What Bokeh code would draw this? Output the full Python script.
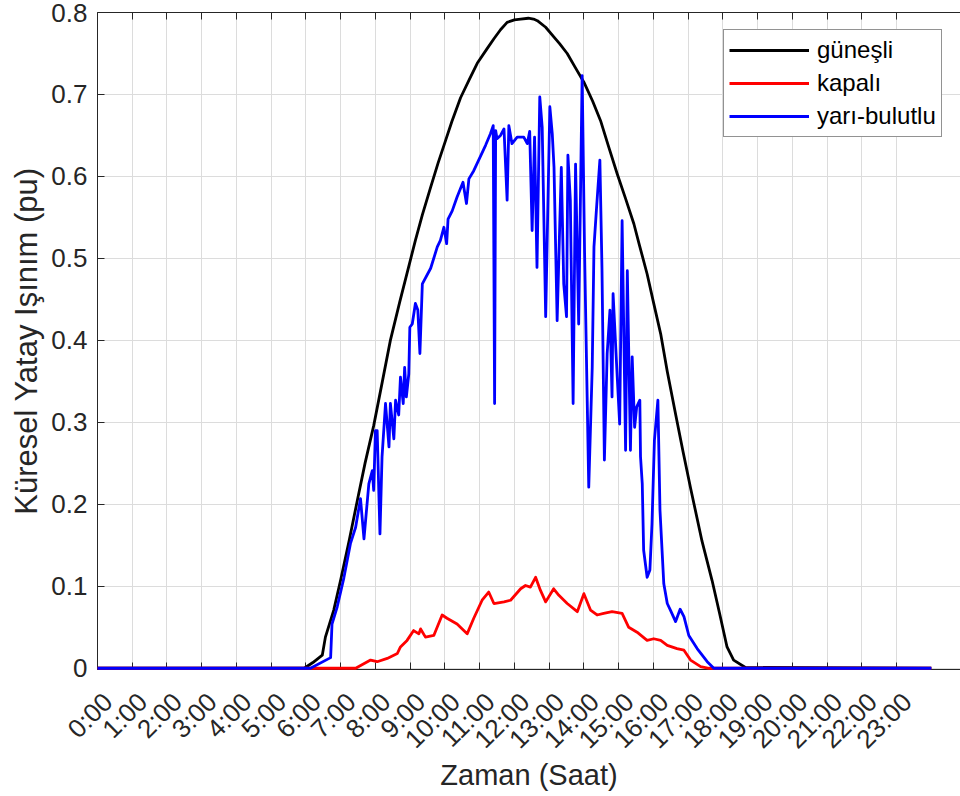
from math import pi
from bokeh.plotting import figure
from bokeh.models import (FixedTicker, Range1d, LinearAxis, Legend, LegendItem,
                          CustomJSTickFormatter)
from bokeh.embed import file_html
from bokeh.resources import INLINE

# ---------------- data (hours, per-unit irradiance) ----------------
gunesli_t = [0, 5.95, 6.2, 6.47, 6.56, 6.8, 7.0, 7.25, 7.48, 7.7, 7.95, 8.2, 8.43, 8.7,
             9.0, 9.15, 9.35, 9.59, 9.8, 10.02, 10.2, 10.45, 10.7, 10.93, 11.2, 11.41,
             11.6, 11.79, 12.0, 12.18, 12.4, 12.55, 12.66, 12.9, 13.14, 13.3, 13.52,
             13.75, 14.0, 14.25, 14.48, 14.7, 14.96, 15.2, 15.44, 15.6, 15.82, 16.0,
             16.21, 16.4, 16.64, 16.85, 17.07, 17.4, 17.69, 17.9, 18.12, 18.31, 18.65, 24]
gunesli_v = [0, 0, 0.007, 0.016, 0.038, 0.071, 0.108, 0.157, 0.205, 0.250, 0.296, 0.350,
             0.400, 0.447, 0.497, 0.522, 0.553, 0.587, 0.616, 0.644, 0.667, 0.696, 0.718,
             0.738, 0.755, 0.768, 0.779, 0.788, 0.791, 0.792, 0.793, 0.792, 0.790, 0.782,
             0.770, 0.762, 0.750, 0.733, 0.715, 0.692, 0.668, 0.638, 0.603, 0.573, 0.542,
             0.516, 0.481, 0.447, 0.408, 0.362, 0.310, 0.265, 0.220, 0.155, 0.107, 0.068,
             0.026, 0.010, 0.001, 0]

kapali_t = [0, 7.43, 7.86, 8.05, 8.34, 8.63, 8.72, 8.91, 9.1, 9.25, 9.30, 9.44, 9.68,
            9.92, 10.06, 10.35, 10.64, 10.83, 11.07, 11.26, 11.41, 11.70, 11.89, 12.18,
            12.32, 12.46, 12.61, 12.75, 12.90, 13.13, 13.28, 13.52, 13.81, 14.0, 14.19,
            14.38, 14.57, 14.81, 15.10, 15.29, 15.53, 15.82, 16.01, 16.21, 16.40, 16.68,
            16.88, 17.07, 17.36, 17.60, 24]
kapali_v = [0, 0, 0.010, 0.008, 0.012, 0.018, 0.026, 0.034, 0.046, 0.042, 0.048, 0.038,
            0.040, 0.065, 0.061, 0.054, 0.042, 0.061, 0.083, 0.093, 0.079, 0.081, 0.083,
            0.097, 0.101, 0.099, 0.111, 0.095, 0.081, 0.097, 0.089, 0.079, 0.069, 0.091,
            0.071, 0.065, 0.067, 0.069, 0.067, 0.050, 0.044, 0.034, 0.036, 0.034, 0.028,
            0.024, 0.022, 0.010, 0.002, 0, 0]

yari_t = [0, 6.13, 6.71, 6.75, 6.90, 7.09, 7.28, 7.43, 7.57, 7.67, 7.81, 7.91, 7.95,
          8.00, 8.05, 8.13, 8.19, 8.29, 8.39, 8.43, 8.53, 8.58, 8.67, 8.72, 8.80, 8.84,
          8.89, 8.96, 8.99, 9.06, 9.15, 9.22, 9.28, 9.35, 9.59, 9.78, 9.87, 9.97, 10.05,
          10.09, 10.21, 10.35, 10.52, 10.62, 10.69, 10.83, 11.17, 11.31, 11.39, 11.43,
          11.46, 11.50, 11.60, 11.70, 11.79, 11.84, 11.93, 12.08, 12.18, 12.27, 12.37,
          12.44, 12.51, 12.58, 12.65, 12.73, 12.80, 12.90, 13.02, 13.09, 13.14, 13.23,
          13.35, 13.42, 13.50, 13.54, 13.61, 13.69, 13.76, 13.85, 13.95, 14.02, 14.14,
          14.24, 14.29, 14.36, 14.46, 14.52, 14.59, 14.67, 14.75, 14.81, 14.84, 14.96,
          15.03, 15.10, 15.20, 15.25, 15.34, 15.39, 15.46, 15.52, 15.61, 15.63, 15.68,
          15.72, 15.82, 15.90, 15.96, 16.03, 16.13, 16.19, 16.30, 16.40, 16.49, 16.64,
          16.77, 16.88, 17.02, 17.26, 17.55, 17.74, 24]
yari_v = [0, 0, 0.013, 0.054, 0.075, 0.110, 0.152, 0.172, 0.207, 0.158, 0.225, 0.241,
          0.217, 0.290, 0.290, 0.164, 0.258, 0.323, 0.270, 0.323, 0.280, 0.327, 0.309,
          0.355, 0.323, 0.367, 0.331, 0.359, 0.416, 0.420, 0.445, 0.437, 0.384, 0.469,
          0.488, 0.514, 0.522, 0.538, 0.518, 0.548, 0.558, 0.575, 0.593, 0.567, 0.597,
          0.607, 0.638, 0.652, 0.662, 0.323, 0.656, 0.646, 0.650, 0.658, 0.571, 0.662,
          0.640, 0.648, 0.648, 0.648, 0.640, 0.655, 0.534, 0.648, 0.489, 0.697, 0.660,
          0.429, 0.685, 0.652, 0.611, 0.424, 0.611, 0.469, 0.429, 0.626, 0.571, 0.323,
          0.615, 0.420, 0.723, 0.506, 0.221, 0.367, 0.514, 0.559, 0.620, 0.489, 0.254,
          0.384, 0.437, 0.331, 0.457, 0.355, 0.298, 0.546, 0.266, 0.485, 0.266, 0.380,
          0.294, 0.319, 0.327, 0.258, 0.225, 0.144, 0.111, 0.120, 0.176, 0.278, 0.327,
          0.193, 0.103, 0.079, 0.071, 0.057, 0.072, 0.063, 0.040, 0.024, 0.008, 0, 0]

hour_ticks = list(range(24))
hour_labels = ["0:00", "1:00", "2:00", "3:00", "4:00", "5:00", "6:00", "7:00", "8:00",
               "9:00", "10:00", "11:00", "12:00", "13:00", "14:00", "15:00", "16:00",
               "17:00", "18:00", "19:00", "20:00", "21:00", "22:00", "23:00"]
y_ticks = [0, 0.1, 0.2, 0.3, 0.4, 0.5, 0.6, 0.7, 0.8]

series_names = ["güneşli", "kapalı", "yarı-bulutlu"]
series_colors = ["#000000", "#ff0000", "#0000ff"]

FONT = "Liberation Sans"
AX = "#262626"
X_END = 24.84          # visible end of the hour axis (frame runs to the page edge)
LABEL_SHIFT = 0.3      # hour labels sit slightly right of their ticks (as in the original)
Y_PAD = 0.0015         # lets the zero-level lines show their full width above the axis

p = figure(width=960, height=793, output_backend="svg", toolbar_location=None,
           x_range=Range1d(0, X_END), y_range=Range1d(-Y_PAD, 0.8),
           min_border_left=97, min_border_right=0, min_border_top=12, min_border_bottom=124,
           y_axis_label="Küresel Yatay Işınım (pu)")
p.outline_line_color = None
p.background_fill_color = "white"
p.border_fill_color = "white"
p.extra_x_ranges = {"lab": Range1d(-LABEL_SHIFT, X_END - LABEL_SHIFT)}

renderers = []
for t, v, c in [(gunesli_t, gunesli_v, series_colors[0]),
                (kapali_t, kapali_v, series_colors[1]),
                (yari_t, yari_v, series_colors[2])]:
    r = p.line(t, v, line_color=c, line_width=2.8, line_join="round", level="overlay")
    renderers.append(r)

for ax in (p.xaxis[0], p.yaxis[0]):
    ax.axis_line_color = AX
    ax.major_tick_line_color = AX
    ax.major_tick_in = 7
    ax.major_tick_out = 0
    ax.minor_tick_line_color = None
    ax.major_label_text_font = FONT
    ax.major_label_text_font_size = "26px"
    ax.major_label_text_color = AX
    ax.axis_label_text_font = FONT
    ax.axis_label_text_font_size = "29px"
    ax.axis_label_text_font_style = "normal"
    ax.axis_label_text_color = AX

# bottom axis: line + inward ticks only
p.xaxis.ticker = FixedTicker(ticks=hour_ticks)
p.xaxis.major_label_text_font_size = "0px"
p.xaxis.major_label_standoff = 0
p.xaxis.axis_label_standoff = 0

# second bottom axis carrying the rotated hour labels and the axis title
lab_axis = LinearAxis(x_range_name="lab", ticker=FixedTicker(ticks=hour_ticks),
                      axis_line_color=None, major_tick_line_color=None,
                      minor_tick_line_color=None, major_tick_in=0, major_tick_out=0,
                      major_label_orientation=pi / 4, major_label_standoff=28,
                      major_label_text_font=FONT, major_label_text_font_size="26px",
                      major_label_text_color=AX,
                      axis_label="Zaman (Saat)", axis_label_standoff=-9,
                      axis_label_text_font=FONT, axis_label_text_font_size="29px",
                      axis_label_text_font_style="normal", axis_label_text_color=AX)
lab_axis.major_label_overrides = dict(zip(hour_ticks, hour_labels))
p.add_layout(lab_axis, "below")

p.yaxis.ticker = FixedTicker(ticks=y_ticks)
p.yaxis.formatter = CustomJSTickFormatter(code="return tick.toFixed(1).replace(/\\.0$/, '');")
p.yaxis.major_label_standoff = 10
p.yaxis.axis_label_standoff = 4
p.yaxis.axis_label_text_font_size = "31px"

top = LinearAxis(ticker=FixedTicker(ticks=hour_ticks), axis_line_color=AX,
                 major_tick_line_color=AX, major_tick_in=7, major_tick_out=0,
                 minor_tick_line_color=None, major_label_text_font_size="0px",
                 major_label_standoff=0, major_label_text_alpha=0)
p.add_layout(top, "above")

p.xgrid.grid_line_color = "#dcdcdc"
p.ygrid.grid_line_color = "#dcdcdc"
p.xgrid.grid_line_width = 1
p.ygrid.grid_line_width = 1

legend = Legend(items=[LegendItem(label=n, renderers=[r]) for n, r in zip(series_names, renderers)],
                location=(626, 532))
legend.label_text_font = FONT
legend.label_text_font_size = "24px"
legend.label_text_color = "#000000"
legend.glyph_width = 80
legend.glyph_height = 30
legend.label_height = 30
legend.label_standoff = 8
legend.padding = 5
legend.spacing = 3
legend.margin = 0
legend.border_line_color = AX
legend.border_line_width = 1
legend.background_fill_color = "white"
legend.background_fill_alpha = 1
p.add_layout(legend, "center")

open("out.html", "w").write(file_html(p, INLINE))
